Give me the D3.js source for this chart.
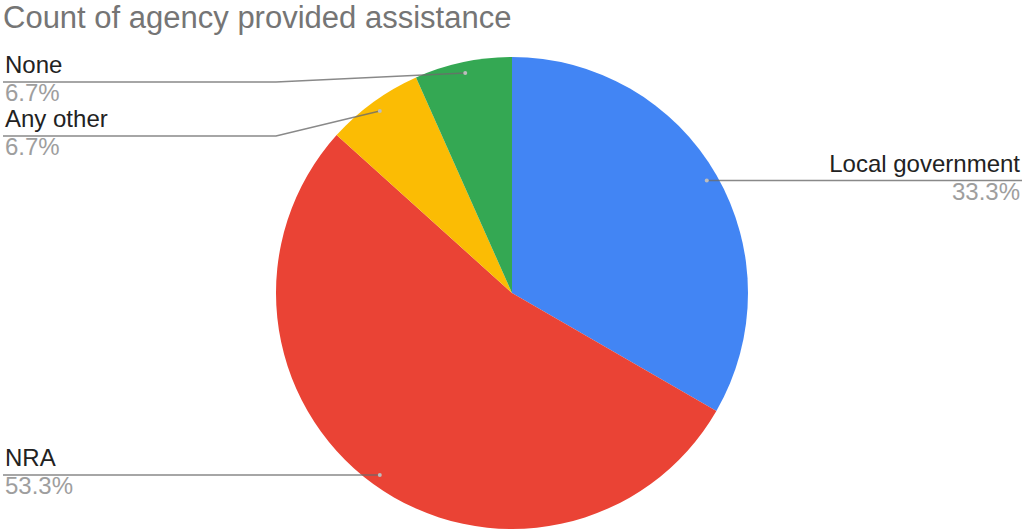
<!DOCTYPE html>
<html>
<head>
<meta charset="utf-8">
<script src="https://cdn.jsdelivr.net/npm/d3@7"></script>
<style>
  html, body { margin: 0; padding: 0; background: #fff; }
  svg { display: block; font-family: "Liberation Sans", Arial, sans-serif; }
</style>
</head>
<body>
<svg id="chart" width="1024" height="531"></svg>
<script>
// Responses: which agency provided assistance
const categories = ["Local government", "NRA", "Any other", "None"];
const counts = [5, 8, 1, 1];
const colors = ["#4285F4", "#EA4335", "#FBBC04", "#34A853"];
const title = "Count of agency provided assistance";

const width = 1024, height = 531;
const cx = 512, cy = 293, radius = 236;
const labelSize = 24;

const svg = d3.select("#chart");

svg.append("text")
  .attr("x", 3)
  .attr("y", 28)
  .attr("fill", "#757575")
  .attr("font-size", 31)
  .text(title);

const total = d3.sum(counts);
const pct = d3.format(".1%");

const data = categories.map((c, i) => ({ name: c, value: counts[i], color: colors[i] }));
const pie = d3.pie().value(d => d.value).sort(null);
const arcs = pie(data);
const arc = d3.arc().innerRadius(0).outerRadius(radius);

const g = svg.append("g").attr("transform", `translate(${cx},${cy})`);
g.selectAll("path.slice")
  .data(arcs)
  .join("path")
  .attr("class", "slice")
  .attr("d", arc)
  .attr("fill", d => d.data.color);

// Anchor point for each leader line, just inside the rim at the slice's mid-angle
const anchorR = radius * 0.953;
const anchors = arcs.map(a => {
  const mid = (a.startAngle + a.endAngle) / 2;
  return {
    a,
    x: cx + anchorR * Math.sin(mid),
    y: cy - anchorR * Math.cos(mid),
    right: Math.sin(mid) > 0
  };
});

// Stack labels on each side so the two-line blocks do not overlap
const blockH = 54, minTop = 82;
["left", "right"].forEach(side => {
  const list = anchors.filter(p => (side === "right") === p.right).sort((p, q) => p.y - q.y);
  let prev = -Infinity;
  list.forEach(p => {
    p.ly = Math.max(p.y, prev + blockH, minTop);
    prev = p.ly;
  });
});

const labels = svg.append("g");
anchors.forEach(p => {
  const elbowX = p.right ? cx + radius : cx - radius;
  const endX = p.right ? 1022 : 3;
  const straight = Math.abs(p.ly - p.y) < 1;
  const ly = straight ? p.y : p.ly;
  const pts = straight
    ? [[p.x, p.y], [endX, p.y]]
    : [[p.x, p.y], [elbowX, ly], [endX, ly]];

  labels.append("path")
    .attr("d", d3.line()(pts))
    .attr("fill", "none")
    .attr("stroke", "#6b6b6b")
    .attr("stroke-opacity", 0.8)
    .attr("stroke-width", 1.5);

  labels.append("circle")
    .attr("cx", p.x).attr("cy", p.y).attr("r", 2)
    .attr("fill", "#bdbdbd");

  const tx = p.right ? 1020 : 5;
  const anchor = p.right ? "end" : "start";
  labels.append("text")
    .attr("x", tx).attr("y", ly - 9)
    .attr("text-anchor", anchor)
    .attr("font-size", labelSize)
    .attr("fill", "#222")
    .text(p.a.data.name);
  labels.append("text")
    .attr("x", tx).attr("y", ly + 19)
    .attr("text-anchor", anchor)
    .attr("font-size", labelSize)
    .attr("fill", "#9e9e9e")
    .text(pct(p.a.data.value / total));
});
</script>
</body>
</html>
